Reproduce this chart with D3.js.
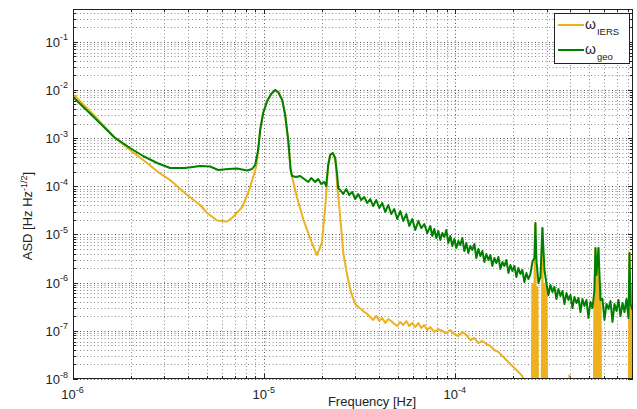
<!DOCTYPE html>
<html><head><meta charset="utf-8">
<script src="https://cdn.jsdelivr.net/npm/d3@7"></script>
<style>body{margin:0;background:#fff}svg{display:block;font-family:"Liberation Sans",Arial,Helvetica,sans-serif}</style>
</head><body><svg id="c" width="637" height="409"></svg>
<script>
// ---------- data ----------
const freqIERS = [
1.00e-6,1.30e-6,1.659e-6,1.988e-6,2.440e-6,2.786e-6,3.221e-6,3.953e-6,4.623e-6,5.030e-6,5.675e-6,6.402e-6,6.880e-6,7.670e-6,8.246e-6,8.758e-6,9.135e-6,
9.30e-6,9.53e-6,9.88e-6,1.037e-5,1.088e-5,1.142e-5,1.184e-5,1.243e-5,1.288e-5,1.336e-5,1.376e-5,1.40e-5,
1.4836e-5,1.606e-5,1.777e-5,1.887e-5,2.005e-5,2.086e-5,2.129e-5,2.163e-5,2.215e-5,2.283e-5,2.353e-5,2.410e-5,
2.499e-5,2.591e-5,2.687e-5,2.786e-5,2.888e-5,2.995e-5,3.105e-5,3.220e-5,3.338e-5,3.461e-5,3.589e-5,3.721e-5,3.858e-5,
4.000e-5,4.147e-5,4.300e-5,4.458e-5,4.622e-5,4.793e-5,4.969e-5,5.152e-5,5.342e-5,5.540e-5,5.743e-5,5.955e-5,6.174e-5,
6.401e-5,6.637e-5,6.882e-5,7.135e-5,7.398e-5,7.763e-5,8.146e-5,8.549e-5,8.971e-5,9.414e-5,9.880e-5,1.0369e-4,1.0881e-4,
1.1419e-4,1.1983e-4,1.2575e-4,1.3197e-4,1.3849e-4,1.4533e-4,1.5251e-4,1.6004e-4,1.6795e-4,1.7625e-4,1.8496e-4,1.9410e-4,
2.0369e-4,2.1375e-4,2.2431e-4,2.3539e-4,2.4703e-4,
2.5003e-4,2.5306e-4,2.5613e-4,2.5923e-4,2.6237e-4,2.6556e-4,2.6878e-4,2.7204e-4,
2.8206e-4,2.8548e-4,2.8894e-4,2.9245e-4,2.9599e-4,2.9959e-4,3.0322e-4,
3.8128e-4,3.9532e-4,4.0988e-4,
5.2797e-4,5.3437e-4,5.4084e-4,5.4742e-4,5.5406e-4,5.6078e-4,5.6758e-4,5.7446e-4,5.8143e-4,
8.0514e-4,8.1490e-4,8.2479e-4,8.3479e-4,8.4492e-4,8.55e-4
];
const asdIERS = [
8.25e-3,2.88e-3,1.01e-3,5.68e-4,3.05e-4,1.98e-4,1.35e-4,6.60e-5,4.09e-5,2.79e-5,1.95e-5,1.86e-5,2.31e-5,3.72e-5,7.27e-5,1.56e-4,2.77e-4,
5.68e-4,1.48e-3,3.33e-3,5.90e-3,8.25e-3,9.99e-3,9.08e-3,6.19e-3,3.02e-3,9.15e-4,2.18e-4,1.56e-4,
6.00e-5,2.00e-5,6.66e-6,3.75e-6,6.66e-6,3.72e-5,1.07e-4,2.77e-4,4.47e-4,4.92e-4,3.87e-4,1.07e-4,
2.31e-5,4.33e-6,1.83e-6,8.94e-7,5.29e-7,3.61e-7,3.13e-7,2.84e-7,2.46e-7,2.24e-7,1.94e-7,1.68e-7,2.03e-7,
1.60e-7,1.85e-7,1.45e-7,1.76e-7,1.60e-7,1.39e-7,1.26e-7,1.53e-7,1.32e-7,1.60e-7,1.26e-7,1.45e-7,1.20e-7,
1.45e-7,1.15e-7,1.32e-7,1.04e-7,1.20e-7,9.46e-8,1.09e-7,9.92e-8,9.02e-8,1.04e-7,8.60e-8,7.81e-8,9.46e-8,
8.20e-8,6.45e-8,7.10e-8,5.59e-8,6.15e-8,5.33e-8,4.85e-8,4.00e-8,3.64e-8,3.00e-8,2.48e-8,2.05e-8,
1.69e-8,1.40e-8,1.15e-8,7.16e-9,1e-10,
1e-10,9.0e-7,1e-10,1.0e-6,1.73e-5,1e-10,8.0e-7,1e-10,
1e-10,1.36e-5,1e-10,9.5e-7,1e-10,8.5e-7,1e-10,
1e-10,1.2e-8,1e-10,
1e-10,9.0e-7,5.24e-6,1e-10,8.0e-7,5.24e-6,1e-10,9.0e-7,1e-10,
1e-10,4.13e-6,1e-10,9.0e-7,1e-10,8.0e-7
];
const freqGeo = [
1.00e-6,1.30e-6,1.659e-6,1.988e-6,2.326e-6,2.754e-6,3.221e-6,3.858e-6,4.623e-6,5.215e-6,5.743e-6,6.479e-6,7.222e-6,8.147e-6,8.65e-6,8.97e-6,
9.30e-6,9.53e-6,9.88e-6,1.037e-5,1.088e-5,1.142e-5,1.184e-5,1.243e-5,1.288e-5,1.336e-5,1.376e-5,1.40e-5,
1.47e-5,1.543e-5,1.620e-5,1.700e-5,1.763e-5,1.849e-5,1.917e-5,1.988e-5,2.061e-5,2.111e-5,2.163e-5,2.215e-5,2.283e-5,2.353e-5,2.410e-5,2.440e-5,
2.499e-5,2.591e-5,2.687e-5,2.786e-5,2.888e-5,2.995e-5,3.105e-5,3.220e-5,3.338e-5,3.461e-5,3.589e-5,3.721e-5,3.858e-5,4.000e-5,4.147e-5,
4.300e-5,4.458e-5,4.622e-5,4.793e-5,4.969e-5,5.152e-5,5.342e-5,5.540e-5,5.743e-5,5.955e-5,6.174e-5,6.401e-5,6.637e-5,6.882e-5,7.135e-5,7.398e-5,
7.578e-5,7.763e-5,7.952e-5,8.146e-5,8.345e-5,8.549e-5,8.757e-5,8.971e-5,9.190e-5,9.414e-5,9.644e-5,9.880e-5,
1.012e-4,1.037e-4,1.062e-4,1.088e-4,1.115e-4,1.142e-4,1.170e-4,1.198e-4,1.228e-4,1.258e-4,1.288e-4,1.320e-4,1.352e-4,1.385e-4,1.419e-4,1.453e-4,
1.489e-4,1.525e-4,1.562e-4,1.600e-4,1.640e-4,1.680e-4,1.721e-4,1.763e-4,1.806e-4,1.850e-4,1.895e-4,1.941e-4,1.988e-4,2.037e-4,2.087e-4,2.138e-4,
2.190e-4,2.243e-4,2.298e-4,2.354e-4,2.411e-4,2.470e-4,2.531e-4,2.592e-4,2.624e-4,2.656e-4,2.720e-4,2.787e-4,2.855e-4,2.925e-4,2.996e-4,
3.069e-4,3.144e-4,3.221e-4,3.299e-4,3.380e-4,3.462e-4,3.547e-4,3.633e-4,3.722e-4,3.813e-4,3.906e-4,4.001e-4,4.099e-4,4.199e-4,4.301e-4,4.406e-4,
4.514e-4,4.624e-4,4.737e-4,4.852e-4,4.971e-4,5.092e-4,5.216e-4,5.344e-4,5.408e-4,5.474e-4,5.608e-4,5.745e-4,5.885e-4,6.028e-4,6.176e-4,6.326e-4,
6.481e-4,6.639e-4,6.801e-4,6.967e-4,7.137e-4,7.311e-4,7.490e-4,7.672e-4,7.860e-4,8.051e-4,8.149e-4,8.248e-4,8.449e-4
];
const asdGeo = [
7.15e-3,2.62e-3,1.01e-3,6.25e-4,4.26e-4,3.05e-4,2.40e-4,2.40e-4,2.64e-4,2.58e-4,2.18e-4,2.29e-4,2.34e-4,2.13e-4,2.29e-4,2.77e-4,
5.68e-4,1.48e-3,3.33e-3,5.90e-3,8.25e-3,9.99e-3,9.08e-3,6.19e-3,3.02e-3,9.15e-4,2.18e-4,1.64e-4,
1.56e-4,1.64e-4,1.42e-4,1.23e-4,1.49e-4,1.23e-4,1.42e-4,1.12e-4,1.23e-4,1.02e-4,2.77e-4,4.47e-4,4.92e-4,3.87e-4,1.72e-4,9.23e-5,
8.39e-5,6.93e-5,8.80e-5,6.60e-5,7.62e-5,5.45e-5,6.93e-5,5.20e-5,6.00e-5,4.51e-5,5.45e-5,3.90e-5,5.20e-5,3.55e-5,4.51e-5,
2.93e-5,4.10e-5,2.66e-5,3.38e-5,2.10e-5,3.07e-5,1.91e-5,2.66e-5,1.50e-5,2.10e-5,1.24e-5,1.91e-5,1.36e-5,1.65e-5,1.07e-5,1.50e-5,
9.30e-6,1.30e-5,8.46e-6,1.18e-5,7.69e-6,1.07e-5,8.87e-6,1.24e-5,6.66e-6,9.30e-6,5.77e-6,8.06e-6,
5.24e-6,7.33e-6,6.05e-6,8.46e-6,4.54e-6,6.66e-6,4.13e-6,5.77e-6,4.77e-6,6.35e-6,3.25e-6,5.00e-6,3.58e-6,4.54e-6,2.69e-6,3.94e-6,
2.95e-6,3.75e-6,2.22e-6,3.25e-6,2.56e-6,3.41e-6,1.92e-6,2.69e-6,2.22e-6,2.95e-6,1.59e-6,2.33e-6,1.75e-6,2.22e-6,1.31e-6,2.02e-6,
1.51e-6,1.83e-6,1.03e-6,1.59e-6,1.19e-6,1.51e-6,2.69e-6,3.25e-6,1.73e-5,2.95e-6,9.84e-7,1.31e-6,1.36e-5,1.83e-6,9.84e-7,
5.55e-7,8.94e-7,6.40e-7,8.13e-7,4.58e-7,7.39e-7,5.29e-7,6.71e-7,3.61e-7,6.10e-7,4.37e-7,5.55e-7,2.98e-7,5.04e-7,3.78e-7,4.80e-7,
2.46e-7,4.58e-7,3.28e-7,4.37e-7,1.85e-7,3.97e-7,2.98e-7,7.04e-7,5.24e-6,1.44e-6,5.24e-6,4.37e-7,4.58e-7,1.68e-7,3.61e-7,2.84e-7,
4.16e-7,1.53e-7,3.61e-7,2.58e-7,4.37e-7,2.03e-7,3.78e-7,2.46e-7,4.58e-7,1.85e-7,4.13e-6,3.61e-7,2.71e-7
];
const xTickExps = [-6, -5, -4];
const yTickExps = [-8, -7, -6, -5, -4, -3, -2, -1];
const seriesNames = ["IERS", "geo"];
const seriesColors = ["#EDB120", "#008000"];

// ---------- layout ----------
const L = 73, R = 633, T = 9, B = 379;
const svg = d3.select("#c");
const x = d3.scaleLog().domain([1e-6, 8.5e-4]).range([L, R]);
const y = d3.scaleLog().domain([1e-8, 0.48]).range([B, T]);

const isMajor = v => Math.abs(Math.log10(v) - Math.round(Math.log10(v))) < 1e-9;
const xt = x.ticks().filter(v => v >= 1e-6 && v <= 8.5e-4);
const yt = y.ticks().filter(v => v >= 1e-8 && v <= 0.48);

// grid
const g = svg.append("g");
g.selectAll(".gx").data(xt).enter().append("line")
  .attr("x1", d => Math.round(x(d)) + 0.5).attr("x2", d => Math.round(x(d)) + 0.5)
  .attr("y1", T).attr("y2", B)
  .attr("stroke", d => isMajor(d) ? "#555" : "#8a8a8a").attr("stroke-width", 1)
  .attr("stroke-dasharray", "1,2.5");
g.selectAll(".gy").data(yt).enter().append("line")
  .attr("y1", d => Math.round(y(d)) + 0.5).attr("y2", d => Math.round(y(d)) + 0.5)
  .attr("x1", L).attr("x2", R)
  .attr("stroke", d => isMajor(d) ? "#555" : "#8a8a8a").attr("stroke-width", 1)
  .attr("stroke-dasharray", "1,2.5");

// ticks (inside, all four sides)
const tk = svg.append("g").attr("stroke", "#222").attr("stroke-width", 1);
xt.forEach(d => {
  const len = isMajor(d) ? 5 : 3, px = Math.round(x(d)) + 0.5;
  tk.append("line").attr("x1", px).attr("x2", px).attr("y1", B).attr("y2", B - len);
  tk.append("line").attr("x1", px).attr("x2", px).attr("y1", T).attr("y2", T + len);
});
yt.forEach(d => {
  const len = isMajor(d) ? 5 : 3, py = Math.round(y(d)) + 0.5;
  tk.append("line").attr("y1", py).attr("y2", py).attr("x1", L).attr("x2", L + len);
  tk.append("line").attr("y1", py).attr("y2", py).attr("x1", R).attr("x2", R - len);
});

// clip
svg.append("clipPath").attr("id", "clip").append("rect")
  .attr("x", L).attr("y", T).attr("width", R - L).attr("height", B - T);

const line = d3.line().x(d => x(d[0])).y(d => y(d[1]));
const dataIERS = freqIERS.map((f, i) => [f, asdIERS[i]]);
const dataGeo = freqGeo.map((f, i) => [f, asdGeo[i]]);
const lg = svg.append("g").attr("clip-path", "url(#clip)");
lg.append("path").datum(dataIERS).attr("d", line).attr("fill", "none")
  .attr("stroke", seriesColors[0]).attr("stroke-width", 2).attr("stroke-linejoin", "round");
lg.append("path").datum(dataGeo).attr("d", line).attr("fill", "none")
  .attr("stroke", seriesColors[1]).attr("stroke-width", 2).attr("stroke-linejoin", "round");

// box
svg.append("rect").attr("x", L + 0.5).attr("y", T + 0.5).attr("width", R - L - 1).attr("height", B - T - 1)
  .attr("fill", "none").attr("stroke", "#222").attr("stroke-width", 1);

// tick labels
const lab = svg.append("g").attr("fill", "#222");
yTickExps.forEach(e => {
  const t = lab.append("text").attr("x", 68).attr("y", y(Math.pow(10, e)) + 5)
    .attr("text-anchor", "end").attr("font-size", 13);
  t.append("tspan").text("10");
  t.append("tspan").attr("dy", -6.5).attr("font-size", 9).text(String(e));
});
xTickExps.forEach(e => {
  const t = lab.append("text").attr("x", x(Math.pow(10, e)) - 0.5).attr("y", 399)
    .attr("text-anchor", "middle").attr("font-size", 13);
  t.append("tspan").text("10");
  t.append("tspan").attr("dy", -6.5).attr("font-size", 9).text(String(e));
});

// axis labels
lab.append("text").attr("x", 372).attr("y", 406).attr("text-anchor", "middle")
  .attr("font-size", 13).text("Frequency [Hz]");
const yl = lab.append("text").attr("transform", "translate(32,216) rotate(-90)")
  .attr("text-anchor", "middle").attr("font-size", 13);
yl.append("tspan").text("ASD [Hz Hz");
yl.append("tspan").attr("dy", -5.5).attr("font-size", 9).text("-1/2");
yl.append("tspan").attr("dy", 5.5).text("]");

// legend
const leg = svg.append("g");
leg.append("rect").attr("x", 554.5).attr("y", 13.5).attr("width", 75).attr("height", 50)
  .attr("fill", "#fff").attr("stroke", "#222").attr("stroke-width", 1);
[25, 50].forEach((ly, i) => {
  leg.append("line").attr("x1", 558).attr("x2", 584).attr("y1", ly).attr("y2", ly)
    .attr("stroke", seriesColors[i]).attr("stroke-width", 2);
  const t = leg.append("text").attr("x", 585).attr("y", ly + 3.5).attr("font-size", 14).attr("fill", "#222");
  t.append("tspan").text("ω");
  t.append("tspan").attr("dy", 6.5).attr("dx", 1).attr("font-size", 9.5).text(seriesNames[i]);
});
</script></body></html>
